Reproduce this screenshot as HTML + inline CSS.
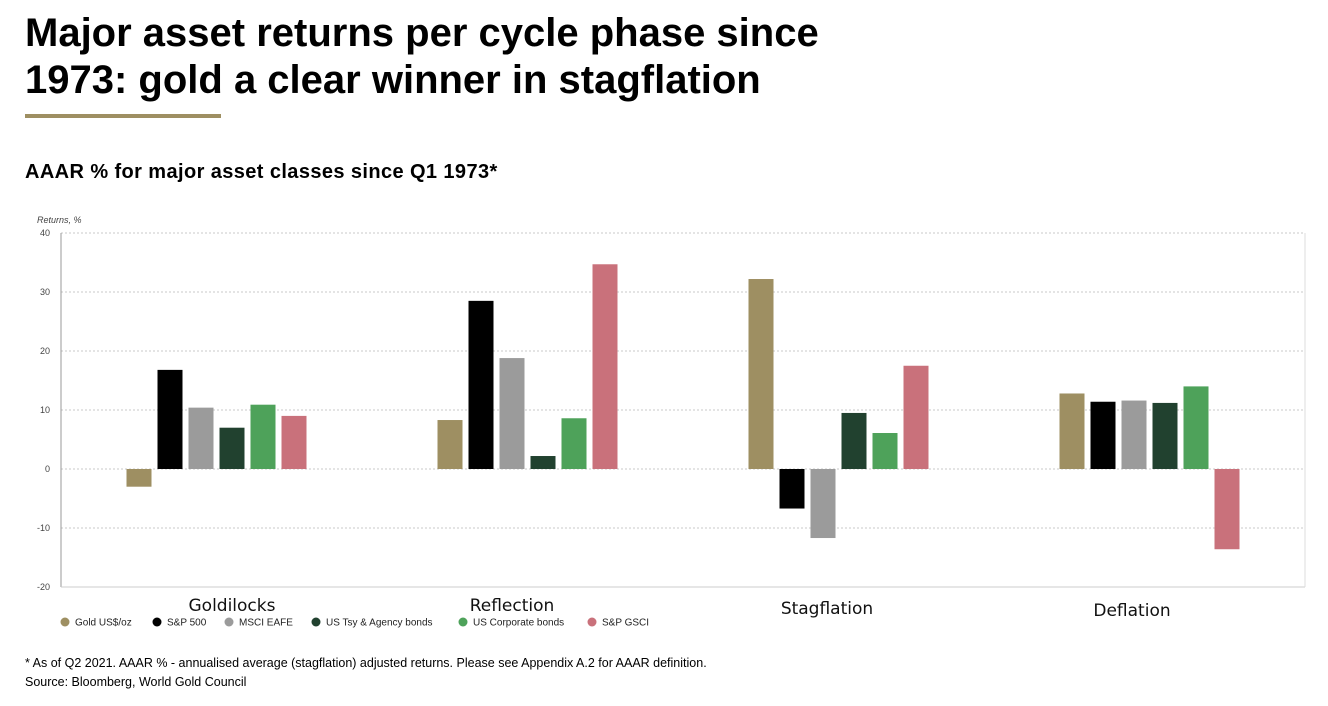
<!DOCTYPE html>
<html><head><meta charset="utf-8">
<style>
body{margin:0;width:1328px;height:706px;background:#fff;font-family:"Liberation Sans",sans-serif;overflow:hidden;position:relative}
.t{position:absolute;white-space:nowrap}
</style></head><body>
<div class="t" style="left:25px;top:10px;font-size:40px;line-height:47px;font-weight:bold;letter-spacing:0px;color:#000">Major asset returns per cycle phase since<br>1973: gold a clear winner in stagflation</div>
<div style="position:absolute;left:25px;top:114px;width:196px;height:4px;background:#9E8F62"></div>
<div class="t" style="left:25px;top:161px;font-size:20px;font-weight:bold;letter-spacing:0.4px;color:#000">AAAR % for major asset classes since Q1 1973*</div>
<svg id="chart" width="1328" height="706" style="position:absolute;left:0;top:0"></svg>
<div class="t" style="left:25px;top:656px;font-size:12.5px;color:#000">* As of Q2 2021. AAAR % - annualised average (stagflation) adjusted returns. Please see Appendix A.2 for AAAR definition.</div>
<div class="t" style="left:25px;top:675px;font-size:12.5px;color:#000">Source: Bloomberg, World Gold Council</div>
<script>
const categories=["Goldilocks","Reflection","Stagflation","Deflation"];
const seriesNames=["Gold US$/oz","S&P 500","MSCI EAFE","US Tsy & Agency bonds","US Corporate bonds","S&P GSCI"];
const gold=[-3,8.3,32.2,12.8];
const sp500=[16.8,28.5,-6.7,11.4];
const eafe=[10.4,18.8,-11.7,11.6];
const tsy=[7,2.2,9.5,11.2];
const corp=[10.9,8.6,6.1,14];
const gsci=[9,34.7,17.5,-13.6];
const yTicks=[40,30,20,10,0,-10,-20];
const series=[gold,sp500,eafe,tsy,corp,gsci];
const colors=["#9E8F62","#000000","#9B9B9B","#21412F","#4EA25A","#C9717B"];
const NS="http://www.w3.org/2000/svg",svg=document.getElementById("chart");
const x0=61,x1=1305,yTop=233,yBot=587,vMax=40,vMin=-20;
const y=v=>yTop+(vMax-v)/(vMax-vMin)*(yBot-yTop);
const slot=(x1-x0)/categories.length;
function mk(t,a){const e=document.createElementNS(NS,t);for(const k in a)e.setAttribute(k,a[k]);svg.appendChild(e);return e;}
yTicks.forEach(v=>{
 const g=mk("line",{x1:x0,x2:x1,y1:y(v),y2:y(v),stroke:"#c8c8c8","stroke-dasharray":"2,2","stroke-width":1});
 
 
 const t=mk("text",{x:50,y:y(v)+3,"text-anchor":"end","font-size":9,fill:"#444","font-family":"Liberation Sans"});
 t.textContent=v;
 
 
});
const ax=mk("line",{x1:x0,x2:x0,y1:yTop,y2:yBot,stroke:"#999"});


const bx=mk("line",{x1:x0,x2:x1,y1:yBot,y2:yBot,stroke:"#ccc"});


const rx=mk("line",{x1:x1,x2:x1,y1:yTop,y2:yBot,stroke:"#ddd"});


const yt=mk("text",{x:37,y:223,"font-size":9,"font-style":"italic",fill:"#444","font-family":"Liberation Sans"});
yt.textContent="Returns, %";


const bw=25,step=31,labelY=[611,611,614,616],labelX=[232,512,827,1132];
categories.forEach((c,i)=>{
 const cx=x0+slot*(i+0.5);
 const start=cx-step*3+3;
 series.forEach((s,j)=>{
  const v=s[i],top=Math.min(y(v),y(0)),h=Math.abs(y(v)-y(0));
  const r=mk("rect",{x:start+j*step,y:top,width:bw,height:h,fill:colors[j]});
  
  
 });
 const t=mk("text",{x:labelX[i],y:labelY[i],"text-anchor":"middle","font-size":17,fill:"#111","font-family":"DejaVu Sans"});
 t.textContent=c;
 
 
});
const legX=[65,157,229,316,463,592];
seriesNames.forEach((n,j)=>{
 const c=mk("circle",{cx:legX[j],cy:622,r:4.5,fill:colors[j]});
 
 
 const t=mk("text",{x:legX[j]+10,y:625.5,"font-size":10,fill:"#222","font-family":"Liberation Sans"});
 t.textContent=n;
 
 
});
</script>
</body></html>
